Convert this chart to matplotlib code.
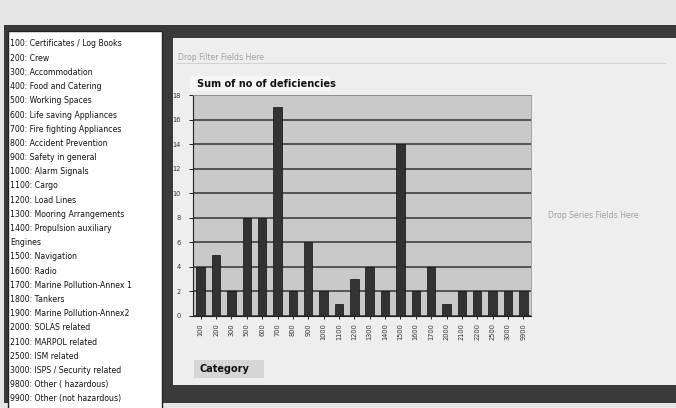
import matplotlib.pyplot as plt
from matplotlib.patches import Rectangle

W, H = 676, 408

categories = ['100', '200', '300', '500', '600', '700', '800', '900', '1000', '1100', '1200',
              '1300', '1400', '1500', '1600', '1700', '2000', '2100', '2200', '2500', '3000', '9900']
deficiencies = [4, 5, 2, 8, 8, 17, 2, 6, 2, 1, 3, 4, 2, 14, 2, 4, 1, 2, 2, 2, 2, 2]

code_list = [
    '100: Certificates / Log Books',
    '200: Crew',
    '300: Accommodation',
    '400: Food and Catering',
    '500: Working Spaces',
    '600: Life saving Appliances',
    '700: Fire fighting Appliances',
    '800: Accident Prevention',
    '900: Safety in general',
    '1000: Alarm Signals',
    '1100: Cargo',
    '1200: Load Lines',
    '1300: Mooring Arrangements',
    '1400: Propulsion auxiliary\nEngines',
    '1500: Navigation',
    '1600: Radio',
    '1700: Marine Pollution-Annex 1',
    '1800: Tankers',
    '1900: Marine Pollution-Annex2',
    '2000: SOLAS related',
    '2100: MARPOL related',
    '2500: ISM related',
    '3000: ISPS / Security related',
    '9800: Other ( hazardous)',
    '9900: Other (not hazardous)',
]

fig = plt.figure(figsize=(W / 100, H / 100), dpi=100)
fig.patch.set_facecolor('#e6e6e6')

# background canvas in pixel units
bg = fig.add_axes([0, 0, 1, 1])
bg.set_xlim(0, W)
bg.set_ylim(H, 0)
bg.axis('off')

def box(x, y, w, h, fc, ec='none', lw=0):
    bg.add_patch(Rectangle((x, y), w, h, facecolor=fc, edgecolor=ec, linewidth=lw))

box(4, 25, W, 378, '#3a3a3a')          # dark window frame
box(8, 31, 154, 380, 'white', '#222222', 1)   # code list panel
box(173, 38, W, 347, '#eeeeee')         # pivot chart panel
bg.plot([176, 665], [63, 63], color='#d4d4d4', lw=0.8)

# code list, one text per line so wrapped entries keep the spacing
y = 44
for item in code_list:
    for line in item.split('\n'):
        bg.text(10, y, line, fontsize=5.6, va='center', ha='left', color='#111111')
        y += 14.2

bg.text(178, 57, 'Drop Filter Fields Here', fontsize=5.6, color='#a0a0a0', va='center')
bg.text(548, 215, 'Drop Series Fields Here', fontsize=5.6, color='#a0a0a0', va='center')

box(190, 76, 140, 15, '#f6f6f6')
bg.text(197, 84, 'Sum of no of deficiencies', fontsize=7, fontweight='bold',
        color='#111111', va='center')
box(194, 360, 70, 18, '#d6d6d6')
bg.text(199, 369, 'Category', fontsize=7, fontweight='bold', color='#111111', va='center')

# bar chart
left, right, top, bottom = 193, 531, 95, 316
ax = fig.add_axes([left / W, 1 - bottom / H, (right - left) / W, (bottom - top) / H])
ax.set_facecolor('#c9c9c9')
x = range(len(categories))
ax.set_axisbelow(True)
ax.grid(axis='y', color='#333333', linewidth=1.1)
ax.bar(x, deficiencies, width=0.55, color='#333333', edgecolor='#111111', linewidth=0.5)
ax.set_xlim(-0.5, len(categories) - 0.5)
ax.set_ylim(0, 18)
ax.set_yticks(range(0, 19, 2))
ax.set_xticks(list(x))
ax.set_xticklabels(categories, rotation=90, fontsize=4.8, color='#333333')
ax.tick_params(axis='y', labelsize=4.8, labelcolor='#333333', length=3, width=0.6, pad=6)
ax.tick_params(axis='x', length=2, width=0.6, pad=3)
for s in ['top', 'right']:
    ax.spines[s].set_color('#999999')
    ax.spines[s].set_linewidth(0.6)
ax.spines['left'].set_color('#222222')
ax.spines['bottom'].set_color('#222222')

fig.savefig('out.png', dpi=100, facecolor=fig.get_facecolor())
